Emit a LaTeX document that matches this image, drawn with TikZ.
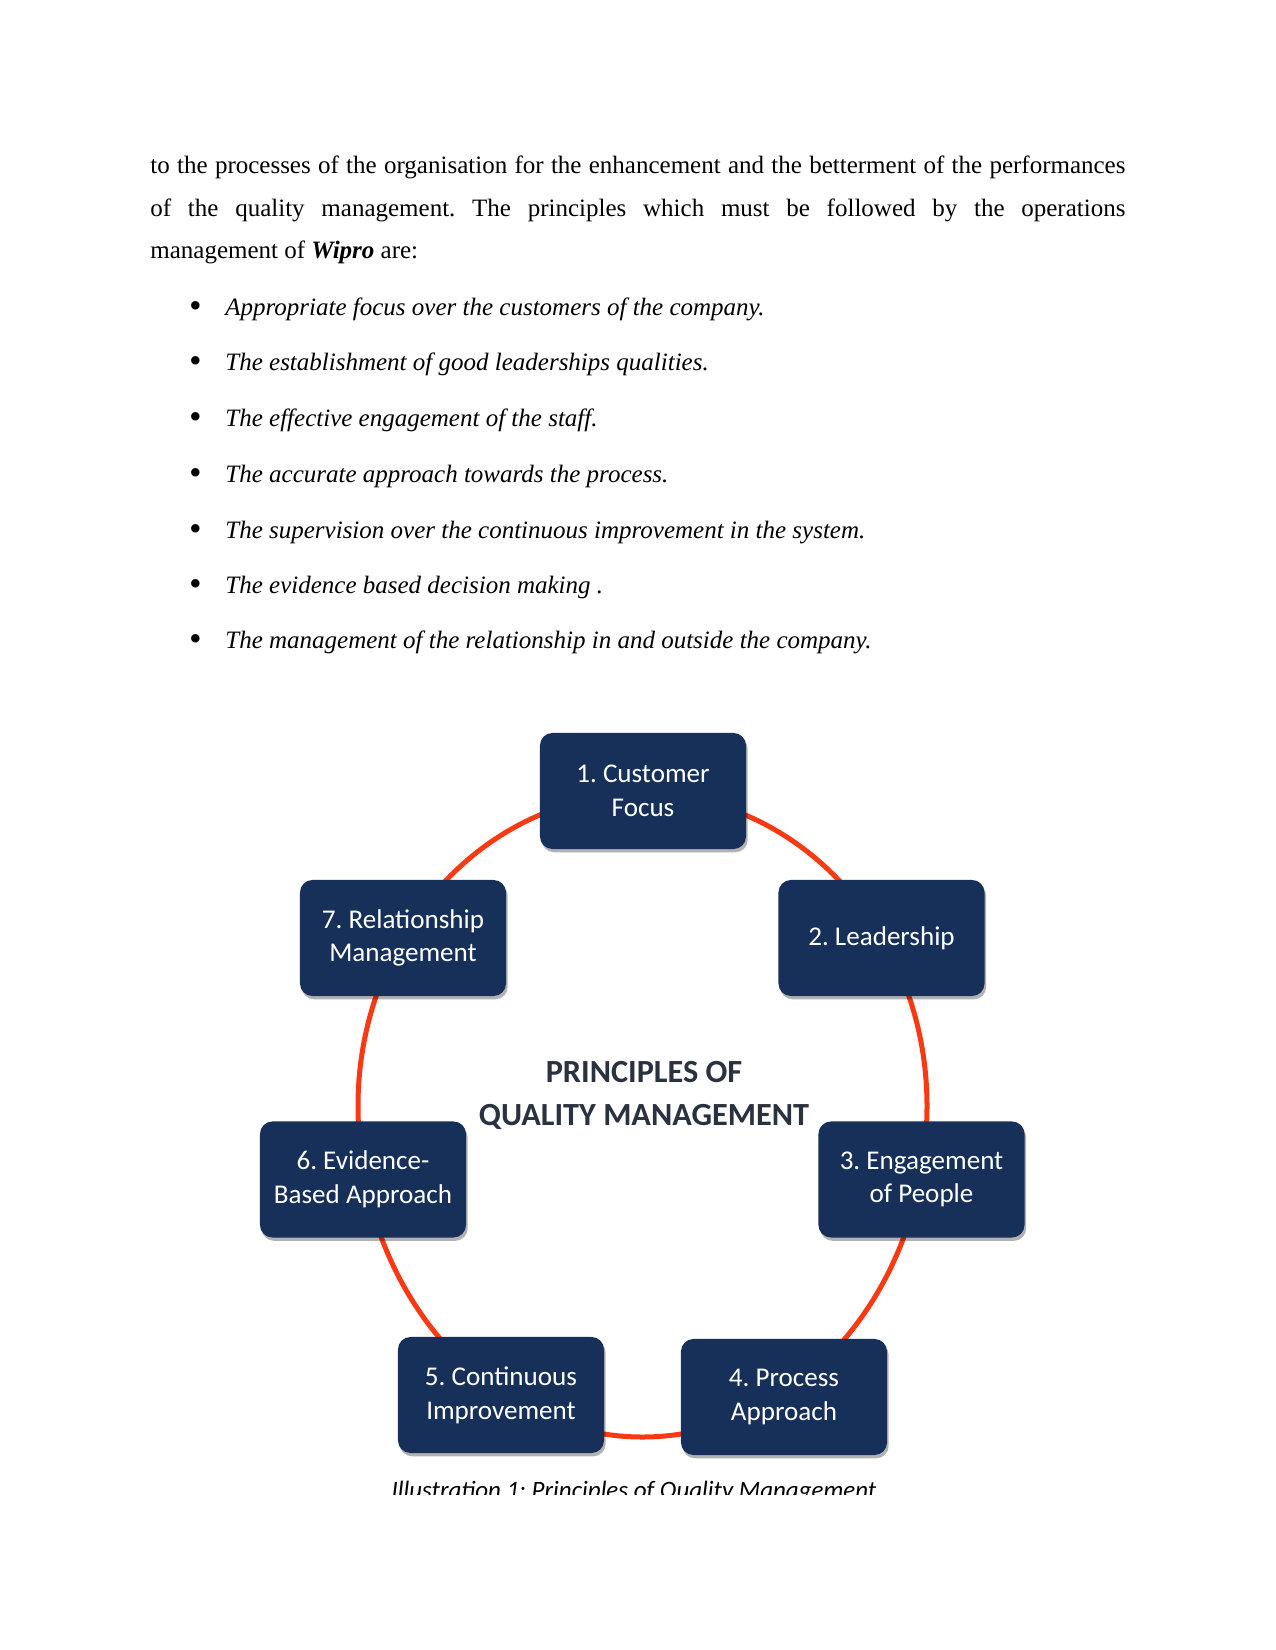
\documentclass[tikz,border=0pt]{standalone}
\usepackage{fontspec}
\setmainfont{Liberation Serif}
\newfontfamily\carlito{Carlito}
\usetikzlibrary{shadows}
\definecolor{navy}{HTML}{17305A}
\definecolor{ringred}{HTML}{F83A14}
\definecolor{titlegray}{HTML}{2A3240}
\tikzset{
  pbox/.style={draw=none, fill=navy, rounded corners=6pt, minimum width=98.9pt, minimum height=55.7pt,
    inner sep=2pt, align=center, text=white, font=\carlito\fontsize{13}{16.2}\selectfont,
    drop shadow={shadow xshift=0.8pt, shadow yshift=-1.6pt, opacity=0.3, fill=black}},
  bodytxt/.style={inner sep=0pt, font=\fontsize{12}{20.4}\selectfont},
  bul/.style={inner sep=0pt, anchor=base, font=\fontsize{17}{18}\selectfont\itshape},
  itm/.style={inner sep=0pt, anchor=base west, font=\fontsize{12}{14}\selectfont\itshape},
  ring/.style={draw=ringred, line width=2.4pt}
}
\begin{document}
\frenchspacing
\begin{tikzpicture}[x=0.48pt, y=-0.48pt]
\useasboundingbox[fill=white] (0,0) rectangle (1275,1650);
% paragraph
\node[bodytxt, anchor=base west, text width=468pt, align=justify] (para) at (150,174)
 {\hyphenpenalty=10000 to the processes of the organisation for the enhancement and the betterment of the performances\linebreak of the quality management. The principles which must be followed by the operations\linebreak management of \textbf{\textit{Wipro}} are:};
% bullets
\foreach \y/\t [count=\i] in {316/{Appropriate focus over the customers of the company.},
  371/{The establishment of good leaderships qualities.},
  427/{The effective engagement of the staff.},
  482/{The accurate approach towards the process.},
  538/{The supervision over the continuous improvement in the system.},
  593/{The evidence based decision making .},
  648/{The management of the relationship in and outside the company.}}{
  \node[bul] (b\i) at (195,\y+2) {•};
  \node[itm] (t\i) at (225,\y) {\t};
}
% ring
\draw[ring] (358,1106) arc[start angle=180, end angle=360, x radius=284.5, y radius=312]
  arc[start angle=0, end angle=180, x radius=284.5, y radius=331];
% title
\node[inner sep=0pt, align=center, text=titlegray, font=\carlito\bfseries\fontsize{15.5}{20.6}\selectfont] (title) at (644,1095)
  {PRINCIPLES OF\\QUALITY MANAGEMENT};
% boxes
\node[pbox] (p1) at (643,791) {1. Customer\\Focus};
\node[pbox] (p2) at (881.5,938) {2. Leadership};
\node[pbox] (p3) at (921.5,1179.5) {3. Engagement\\of People};
\node[pbox] (p4) at (784,1397) {4. Process\\Approach};
\node[pbox] (p5) at (501,1395) {5. Continuous\\Improvement};
\node[pbox] (p6) at (363,1179.5) {6. Evidence-\\Based Approach};
\node[pbox] (p7) at (403,938) {7. Relationship\\Management};
% caption (clipped)
\begin{scope}
\clip (300,1400) rectangle (1000,1494);
\node[inner sep=0pt, anchor=base, font=\carlito\itshape\fontsize{12}{14}\selectfont] (cap) at (634,1498)
  {Illustration 1: Principles of Quality Management};
\end{scope}
\end{tikzpicture}
\end{document}
